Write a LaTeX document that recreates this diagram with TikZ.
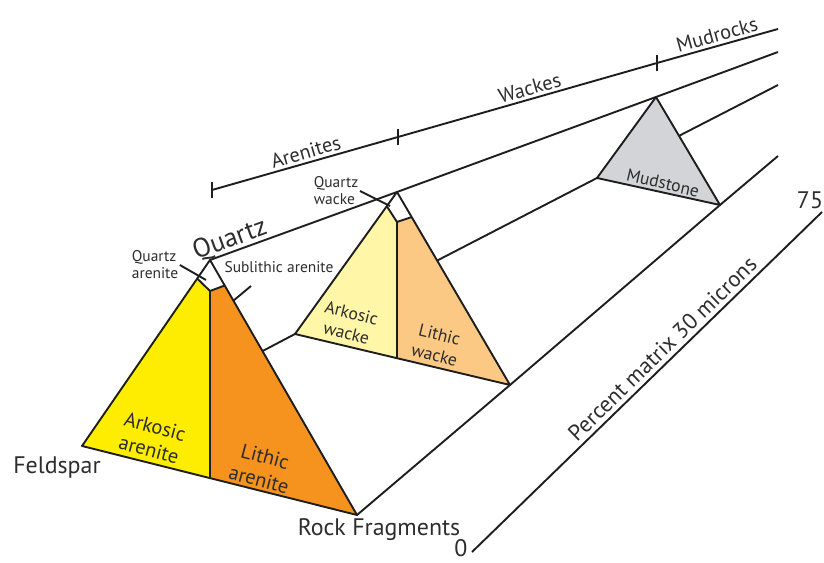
\documentclass[tikz,border=0pt]{standalone}
\usepackage{fontspec}
\setmainfont{PT Sans}
\definecolor{arkyellow}{RGB}{255,237,0}
\definecolor{lithorange}{RGB}{246,146,30}
\definecolor{wackeyellow}{RGB}{255,246,168}
\definecolor{wackeorange}{RGB}{252,201,132}
\definecolor{mudgray}{RGB}{210,212,216}
\definecolor{inkgray}{RGB}{30,30,30}
\definecolor{textgray}{RGB}{45,45,45}
\usetikzlibrary{calc}

\begin{document}
\begin{tikzpicture}[x=0.025cm,y=-0.025cm,line join=round,
    edge/.style={line width=1.35pt,color=inkgray},
    biglbl/.style={font=\fontsize{17}{20}\selectfont,color=textgray,inner sep=1pt},
    axlbl/.style={font=\fontsize{14.5}{17}\selectfont,color=textgray,inner sep=2pt},
    smalllbl/.style={font=\fontsize{11}{12}\selectfont,color=textgray,inner sep=1pt,align=left},
    inlbl/.style={font=\fontsize{14.5}{17}\selectfont,color=textgray,align=center},
    inlblsm/.style={font=\fontsize{12.5}{15}\selectfont,color=textgray,align=center}]
    \useasboundingbox (0,0) rectangle (824,563);
    \coordinate (fQ) at (210,260);
    \coordinate (fF) at (82,446);
    \coordinate (fR) at (357,515);
    \coordinate (mQ) at (397,192);
    \coordinate (mF) at (295,334);
    \coordinate (mR) at (510,385);
    \coordinate (dQ) at (656,97);
    \coordinate (dF) at (597,178);
    \coordinate (dR) at (720,205);
    \coordinate (eQ) at (778,52);
    \coordinate (eF) at (778,85);
    \coordinate (eR) at (778,156);
    \draw[edge] (fQ)--(mQ)--(dQ)--(eQ);
    \draw[edge] (fF)--(mF)--(dF)--(eF);
    \draw[edge] (fR)--(mR)--(dR)--(eR);
    \filldraw[edge,fill=mudgray] (dQ)--(dF)--(dR)--cycle;
    \node[inlblsm,rotate=-13] (ms) at (663,183) {Mudstone};
    \coordinate (mL) at ($(mQ)!0.1!(mF)$);
    \coordinate (mM) at ($(mQ)!0.13!(mR)$);
    \coordinate (mT) at (397,222);
    \coordinate (mB) at (397,358);
    \fill[white] (mQ)--(mF)--(mR)--cycle;
    \fill[wackeyellow] (mL)--(mT)--(mB)--(mF)--cycle;
    \fill[wackeorange] (mT)--(mM)--(mR)--(mB)--cycle;
    \draw[edge] (mQ)--(mF)--(mR)--cycle;
    \draw[edge] (mL)--(mT)--(mM) (mT)--(mB);
    \node[inlblsm,rotate=-14] (aw) at (349,323) {Arkosic\\wacke};
    \node[inlblsm,rotate=-14] (lw) at (437,345) {Lithic\\wacke};
    \coordinate (fL) at ($(fQ)!0.1!(fF)$);
    \coordinate (fM) at ($(fQ)!0.1!(fR)$);
    \coordinate (fT) at (210,291);
    \coordinate (fB) at (210,478);
    \fill[white] (fQ)--(fF)--(fR)--cycle;
    \fill[arkyellow] (fL)--(fT)--(fB)--(fF)--cycle;
    \fill[lithorange] (fT)--(fM)--(fR)--(fB)--cycle;
    \draw[edge] (fQ)--(fF)--(fR)--cycle;
    \draw[edge] (fL)--(fT)--(fM) (fT)--(fB);
    \node[inlbl,rotate=-15] (aa) at (152,438) {Arkosic\\arenite};
    \node[inlbl,rotate=-15] (la) at (262,468) {Lithic\\arenite};
    \node[font=\fontsize{19}{21}\selectfont,color=textgray,rotate=20] (qz) at (230,240) {Quartz};
    \node[biglbl] (fs) at (57,468) {Feldspar};
    \node[biglbl] (rf) at (379,530) {Rock Fragments};
    \node[smalllbl] (qa) at (155,265) {Quartz\\arenite};
    \coordinate (qatip) at (206,280);
    \draw[edge] (qa.east)--(qatip);
    \node[smalllbl] (sa) at (279,267) {Sublithic arenite};
    \coordinate (satip) at (233,301);
    \coordinate (saend) at (251,286);
    \draw[edge] (satip)--(saend);
    \node[smalllbl] (qw) at (336,191) {Quartz\\wacke};
    \coordinate (qwtip) at (390,206);
    \draw[edge] (qw.east)--(qwtip);
    \coordinate (sA) at (212,190);
    \coordinate (t1) at (398,137);
    \coordinate (t2) at (657,63);
    \coordinate (sE) at (778,29);
    \draw[edge] (sA)
      -- node[axlbl,sloped,above,pos=0.52] (ar) {Arenites} (t1)
      -- node[axlbl,sloped,above,pos=0.52] (wk) {Wackes} (t2)
      -- node[axlbl,sloped,above,pos=0.52] (mr) {Mudrocks} (sE);
    \foreach \t in {sA,t1,t2}
      \draw[edge] ([yshift=-6pt]\t)--([yshift=6pt]\t);
    \coordinate (p0) at (472,552);
    \coordinate (p75) at (822,212);
    \draw[edge] (p0)
      -- node[biglbl,sloped,above,pos=0.57,inner sep=3pt,font=\fontsize{16}{19}\selectfont] (pm) {Percent matrix 30 microns} (p75);
    \node[biglbl] (z0) at (461,548) {0};
    \node[biglbl] (z75) at (810,200) {75};
\end{tikzpicture}
\end{document}
